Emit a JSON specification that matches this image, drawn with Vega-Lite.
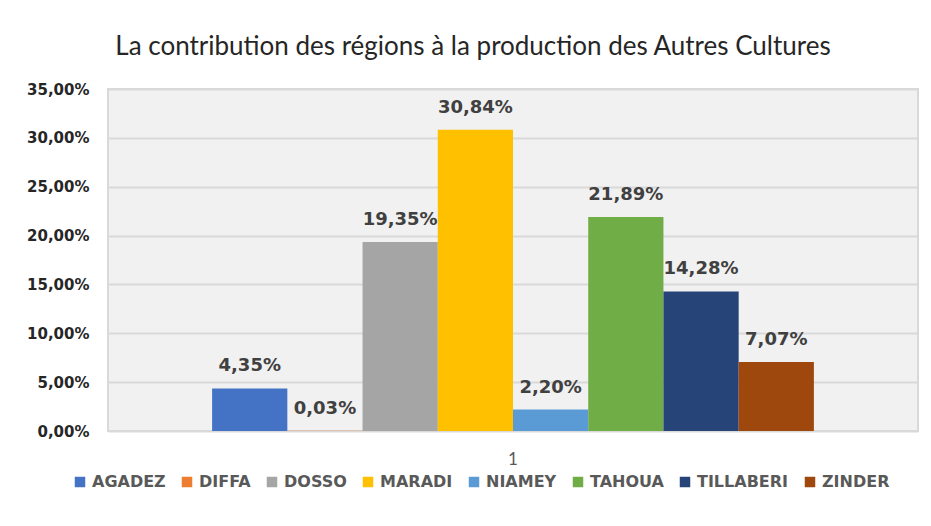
{
  "$schema": "https://vega.github.io/schema/vega-lite/v6.json",
  "width": 810,
  "height": 342,
  "autosize": {"type": "none"},
  "padding": {"left": 108, "top": 89, "right": 13, "bottom": 95},
  "background": "white",
  "config": {
    "locale": {"number": {"decimal": ",", "thousands": " ", "grouping": [3], "currency": ["", " €"]}},
    "view": {"fill": "#f1f1f1", "stroke": "#d9d9d9", "strokeWidth": 2},
    "font": "DejaVu Sans"
  },
  "title": {
    "text": "La contribution des régions à la production des Autres Cultures",
    "font": "Lato",
    "fontSize": 26,
    "fontWeight": "normal",
    "color": "#262626",
    "anchor": "middle",
    "frame": "group",
    "dx": -40,
    "offset": 22
  },
  "data": {
    "values": [
      {"region": "AGADEZ", "cat": "1", "value": 0.0435},
      {"region": "DIFFA", "cat": "1", "value": 0.0003},
      {"region": "DOSSO", "cat": "1", "value": 0.1935},
      {"region": "MARADI", "cat": "1", "value": 0.3084},
      {"region": "NIAMEY", "cat": "1", "value": 0.0220},
      {"region": "TAHOUA", "cat": "1", "value": 0.2189},
      {"region": "TILLABERI", "cat": "1", "value": 0.1428},
      {"region": "ZINDER", "cat": "1", "value": 0.0707}
    ]
  },
  "encoding": {
    "x": {
      "field": "cat",
      "type": "nominal",
      "scale": {"paddingInner": 0, "paddingOuter": 0.173},
      "axis": {
        "title": null,
        "labelAngle": 0,
        "domain": false,
        "ticks": false,
        "labelFont": "Lato",
        "labelFontSize": 17,
        "labelColor": "#595959",
        "labelPadding": 20
      }
    },
    "xOffset": {
      "field": "region",
      "type": "nominal",
      "sort": ["AGADEZ", "DIFFA", "DOSSO", "MARADI", "NIAMEY", "TAHOUA", "TILLABERI", "ZINDER"],
      "scale": {"paddingInner": 0, "paddingOuter": 0}
    },
    "y": {
      "field": "value",
      "type": "quantitative",
      "scale": {"domain": [0, 0.35]},
      "axis": {
        "title": null,
        "values": [0, 0.05, 0.1, 0.15, 0.2, 0.25, 0.3, 0.35],
        "format": ".2%",
        "domain": false,
        "ticks": false,
        "labelFontWeight": "bold",
        "labelFontSize": 15,
        "labelColor": "#262626",
        "labelPadding": 19,
        "gridColor": "#d9d9d9",
        "gridWidth": 2
      }
    }
  },
  "layer": [
    {
      "mark": {"type": "bar"},
      "encoding": {
        "color": {
          "field": "region",
          "type": "nominal",
          "scale": {
            "domain": ["AGADEZ", "DIFFA", "DOSSO", "MARADI", "NIAMEY", "TAHOUA", "TILLABERI", "ZINDER"],
            "range": ["#4472C4", "#ED7D31", "#A5A5A5", "#FFC000", "#5B9BD5", "#70AD47", "#264478", "#9E480E"]
          },
          "legend": {
            "title": null,
            "orient": "none",
            "legendX": -36,
            "legendY": 385,
            "direction": "horizontal",
            "symbolType": "square",
            "symbolSize": 110,
            "symbolStrokeWidth": 0,
            "labelFontSize": 16,
            "labelFontWeight": "bold",
            "labelColor": "#595959",
            "labelOffset": 4,
            "columnPadding": 13
          }
        }
      }
    },
    {
      "mark": {"type": "text", "dy": -17, "baseline": "alphabetic", "fontWeight": "bold", "fontSize": 18, "color": "#404040"},
      "encoding": {"text": {"field": "value", "type": "quantitative", "format": ".2%"}}
    }
  ]
}
